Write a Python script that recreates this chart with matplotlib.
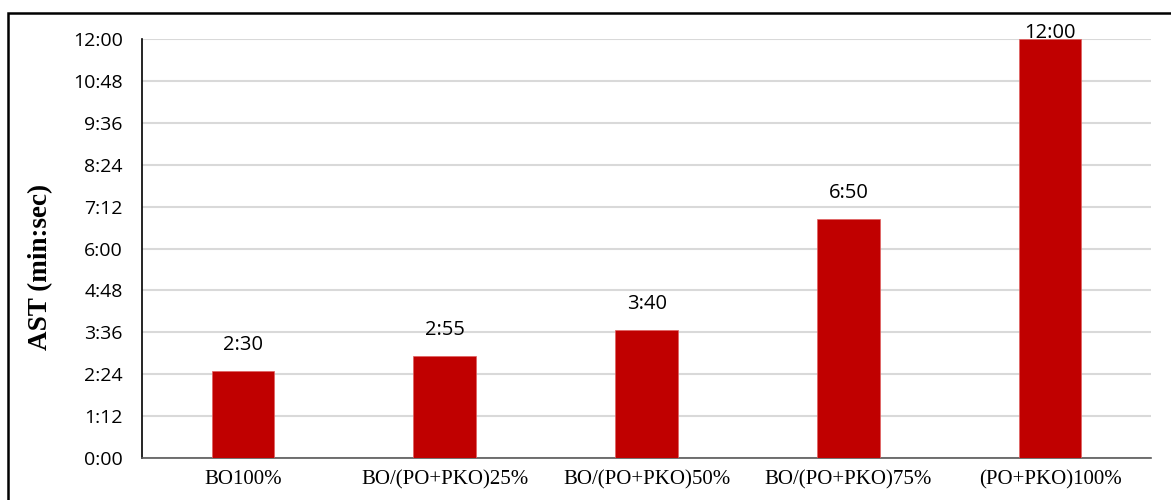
import matplotlib.pyplot as plt
from matplotlib.patches import Rectangle
from matplotlib.ticker import FixedLocator, FuncFormatter

# AST for each oil blend, in seconds
blends = ["BO100%", "BO/(PO+PKO)25%", "BO/(PO+PKO)50%", "BO/(PO+PKO)75%", "(PO+PKO)100%"]
ast_sec = [150, 175, 220, 410, 720]
ytick_sec = [0, 72, 144, 216, 288, 360, 432, 504, 576, 648, 720]


def mmss(s, pos=None):
    s = int(round(s))
    return "%d:%02d" % (s // 60, s % 60)


fig = plt.figure(figsize=(11.71, 5), dpi=100)
ax = fig.add_axes([0.1213, 0.084, 0.8617, 0.838])

x = range(len(blends))
ax.bar(x, ast_sec, width=0.31, color="#c00000", edgecolor="#e06060", linewidth=0.5, zorder=3)

ax.set_xlim(-0.5, len(blends) - 0.5)
ax.set_ylim(0, 720)
ax.yaxis.set_major_locator(FixedLocator(ytick_sec))
ax.yaxis.set_major_formatter(FuncFormatter(mmss))
ax.grid(axis="y", color="#d9d9d9", linewidth=1.5, zorder=0)
ax.set_axisbelow(True)

for side in ["top", "right"]:
    ax.spines[side].set_visible(False)
ax.spines["left"].set_color("black")
ax.spines["left"].set_linewidth(1.2)
ax.spines["bottom"].set_color("#595959")
ax.spines["bottom"].set_linewidth(1.2)

ax.set_xticks(list(x))
ax.set_xticklabels(blends, fontfamily="Liberation Serif", fontsize=15)
ax.tick_params(axis="x", length=0, pad=9)
ax.tick_params(axis="y", length=0, pad=14, labelsize=14)
for lab in ax.get_yticklabels():
    lab.set_fontfamily("Open Sans")

ax.set_ylabel("AST (min:sec)", fontfamily="Liberation Serif", fontweight="bold", fontsize=19.5)
ax.yaxis.set_label_coords(-0.088, 0.455)

# value labels above the bars, kept inside the plot top
for i, v in enumerate(ast_sec):
    ax.text(i, min(v + 45, 730), mmss(v), ha="center", va="center",
            fontfamily="Open Sans", fontsize=14.5, zorder=4, clip_on=False)

# outer frame
fig.patches.append(Rectangle((8 / 1171, -0.1), 1.2, 0.1 + 1 - 13 / 500,
                             transform=fig.transFigure, fill=False,
                             edgecolor="black", linewidth=1.8))

fig.savefig("out.png", dpi=100)
